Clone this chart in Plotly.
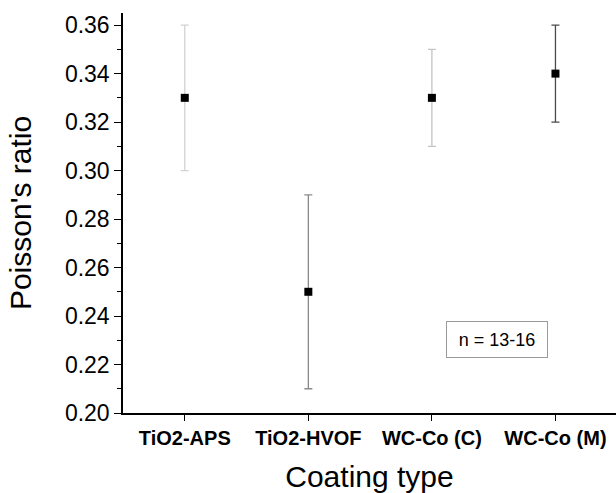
import plotly.graph_objects as go

categories = ["TiO2-APS", "TiO2-HVOF", "WC-Co (C)", "WC-Co (M)"]
poisson_mean = [0.33, 0.25, 0.33, 0.34]
err_plus = [0.03, 0.04, 0.02, 0.02]
err_minus = [0.03, 0.04, 0.02, 0.02]
y_ticks = [0.20, 0.22, 0.24, 0.26, 0.28, 0.30, 0.32, 0.34, 0.36]

err_colors = ["#d2d2d2", "#8a8a8a", "#c4c4c4", "#4a4a4a"]

fig = go.Figure()
for i, cat in enumerate(categories):
    fig.add_trace(go.Scatter(
        x=[cat], y=[poisson_mean[i]],
        mode="markers",
        marker=dict(symbol="square", size=8, color="black"),
        error_y=dict(type="data", symmetric=False, array=[err_plus[i]],
                     arrayminus=[err_minus[i]], color=err_colors[i],
                     thickness=1.3, width=4),
        showlegend=False,
    ))

font_family = "Liberation Sans, Arial, sans-serif"

fig.update_layout(
    width=616, height=493,
    margin=dict(l=123, r=0, t=13, b=80),
    paper_bgcolor="white", plot_bgcolor="white",
    font=dict(family=font_family, color="black"),
    xaxis=dict(
        type="category", categoryorder="array", categoryarray=categories,
        range=[-0.5, 3.49],
        showline=True, linecolor="black", linewidth=1.5,
        ticks="outside", ticklen=6, tickcolor="black", tickwidth=1.2,
        tickfont=dict(size=20, family=font_family, weight="bold"),
        showgrid=False, zeroline=False,
        title=dict(text="Coating type", font=dict(size=30), standoff=20),
    ),
    yaxis=dict(
        range=[0.20, 0.365],
        tickvals=y_ticks, ticktext=[f"{v:.2f}" for v in y_ticks],
        showline=True, linecolor="black", linewidth=1.5,
        ticks="outside", ticklen=7, tickcolor="black", tickwidth=1.2,
        tickfont=dict(size=23),
        minor=dict(dtick=0.01, ticks="outside", ticklen=4, tickcolor="black", tickwidth=1),
        showgrid=False, zeroline=False,
        title=dict(text="Poisson's ratio", font=dict(size=30), standoff=24),
    ),
    annotations=[dict(
        text="n = 13-16", xref="paper", yref="paper",
        x=(497 - 123) / 493, y=(413 - 339) / 400,
        xanchor="center", yanchor="middle", showarrow=False,
        font=dict(size=18, family=font_family),
        bordercolor="#9a9a9a", borderwidth=1, borderpad=4,
        width=92, height=27, bgcolor="white",
    )],
)

fig.write_html("out.html", config={"displayModeBar": False},
               post_script="document.body.style.margin='0px';")
